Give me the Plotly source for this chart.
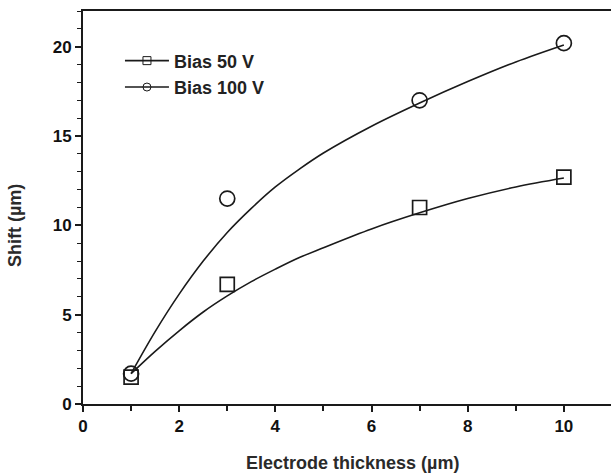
import plotly.graph_objects as go

# Measured data
thickness = [1, 3, 7, 10]
shift_50 = [1.5, 6.7, 11.0, 12.7]
shift_100 = [1.7, 11.5, 17.0, 20.2]

# Fitted curves
fit_x = [1, 1.5, 2, 2.5, 3, 3.5, 4, 4.5, 5, 6, 7, 8, 9, 10]
fit_50 = [1.7, 2.95, 4.1, 5.15, 6.05, 6.85, 7.55, 8.2, 8.75, 9.8, 10.7, 11.5, 12.15, 12.65]
fit_100 = [1.7, 4.05, 6.15, 8.0, 9.6, 10.95, 12.15, 13.15, 14.05, 15.55, 16.85, 18.05, 19.15, 20.1]

series_names = ["Bias 50 V", "Bias 100 V"]
x_title = "Electrode thickness (µm)"
y_title = "Shift (µm)"

INK = "#1a1a1a"
FONT = "Liberation Sans"

fig = go.Figure()

fig.add_trace(go.Scatter(x=fit_x, y=fit_50, mode="lines", line=dict(color=INK, width=1.6, shape="spline", smoothing=1.0),
                         showlegend=False, hoverinfo="skip"))
fig.add_trace(go.Scatter(x=fit_x, y=fit_100, mode="lines", line=dict(color=INK, width=1.6, shape="spline", smoothing=1.0),
                         showlegend=False, hoverinfo="skip"))

fig.add_trace(go.Scatter(x=thickness, y=shift_50, mode="markers",
                         marker=dict(symbol="square-open", size=14, color=INK, line=dict(width=1.7)),
                         showlegend=False))
fig.add_trace(go.Scatter(x=thickness, y=shift_100, mode="markers",
                         marker=dict(symbol="circle-open", size=15, color=INK, line=dict(width=1.7)),
                         showlegend=False))

# legend entries
fig.add_trace(go.Scatter(x=[None], y=[None], mode="lines+markers", name=series_names[0],
                         line=dict(color=INK, width=1.6),
                         marker=dict(symbol="square-open", size=8, color=INK, line=dict(width=1))))
fig.add_trace(go.Scatter(x=[None], y=[None], mode="lines+markers", name=series_names[1],
                         line=dict(color=INK, width=1.6),
                         marker=dict(symbol="circle-open", size=8, color=INK, line=dict(width=1))))

fig.update_layout(
    width=611, height=473,
    margin=dict(l=83, r=0, t=11, b=69),
    paper_bgcolor="white", plot_bgcolor="white",
    font=dict(family=FONT, size=17, color=INK),
    showlegend=True,
    legend=dict(x=0.07, y=0.92, xanchor="left", yanchor="top", bgcolor="rgba(0,0,0,0)",
                font=dict(family=FONT, size=18, color="#222", weight="bold"),
                itemwidth=44, tracegroupgap=0),
    annotations=[
        dict(text=x_title, xref="paper", yref="paper", x=(352.7 - 83) / 528, y=-(463 - 404) / 393,
             xanchor="center", yanchor="middle", showarrow=False,
             font=dict(family=FONT, size=18, color="#2a2a2a", weight="bold")),
        dict(text=y_title, xref="paper", yref="paper", x=(15 - 83) / 528, y=(404 - 226) / 393,
             xanchor="center", yanchor="middle", showarrow=False, textangle=-90,
             font=dict(family=FONT, size=18, color="#2a2a2a", weight="bold")),
    ],
)

fig.update_xaxes(
    range=[0, 10.98], showgrid=False, zeroline=False,
    showline=True, linecolor=INK, linewidth=2, mirror=True,
    ticks="outside", ticklen=6, tickwidth=1.5, tickcolor=INK,
    tick0=0, dtick=2,
    minor=dict(dtick=1, ticks="outside", ticklen=5, tickwidth=1.5, tickcolor=INK),
    tickfont=dict(family=FONT, size=17, color="#111", weight="bold"),
)
fig.update_yaxes(
    range=[0, 22], showgrid=False, zeroline=False,
    showline=True, linecolor=INK, linewidth=2,
    ticks="outside", ticklen=6, tickwidth=1.5, tickcolor=INK,
    tick0=0, dtick=5,
    minor=dict(dtick=1, ticks="outside", ticklen=4, tickwidth=1.2, tickcolor=INK),
    tickfont=dict(family=FONT, size=17, color="#111", weight="bold"),
)

fig.write_html("out.html")
